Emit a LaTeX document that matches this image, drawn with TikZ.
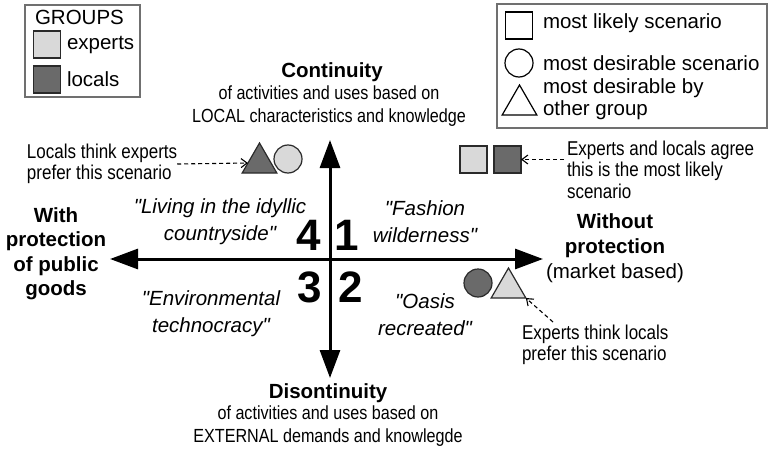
\documentclass[tikz,border=0pt]{standalone}
\usepackage{fontspec}
\setmainfont{Liberation Sans}[Ligatures=TeXOff]
\newfontfamily\narrowsans[FakeStretch=0.85,Ligatures=TeXOff]{Liberation Sans}
\usetikzlibrary{arrows.meta,shapes.geometric}

\definecolor{lightfill}{HTML}{D9D9D9}
\definecolor{darkfill}{HTML}{6A6A6A}
\definecolor{legendline}{HTML}{707070}
\definecolor{markline}{HTML}{2A2A2A}

\newcommand{\fsz}[2]{\fontsize{#1}{#2}\selectfont}

\begin{document}
\begin{tikzpicture}[x=1pt,y=-1pt,
  every node/.style={inner sep=0pt,outer sep=0pt},
  legendbox/.style={draw=legendline,line width=1.4pt},
  legendtext/.style={font=\fsz{20.5}{22}},
  swatch/.style={draw=markline,line width=1.2pt,rectangle,minimum size=27pt},
  mk/.style={draw=markline,line width=1.2pt},
  sqmark/.style={mk,rectangle,minimum size=27pt},
  cimark/.style={mk,circle,minimum size=28pt},
  trmark/.style={mk,regular polygon,regular polygon sides=3,minimum size=40pt},
  title/.style={font=\bfseries\fsz{20.5}{24.5},align=center},
  subtitle/.style={font=\narrowsans\fsz{19}{23},align=center},
  quadlabel/.style={font=\itshape\fsz{20.5}{27},align=center},
  num/.style={font=\bfseries\fsz{44}{44},anchor=base},
  notetext/.style={font=\narrowsans\fsz{20}{21.5},align=left,anchor=west},
  axis/.style={line width=3pt,{Triangle[length=28pt,width=20pt]}-{Triangle[length=28pt,width=20pt]}},
  note/.style={line width=1.1pt,dash pattern=on 4pt off 3pt,-{Straight Barb[length=6pt,width=9pt]}}
]
\useasboundingbox (0,0) rectangle (770,452);

% legend: groups
\node[legendbox,minimum width=115pt,minimum height=92pt] (grp) at (82.5,51) {};
\node[legendtext,anchor=west] (grptitle) at (35,17) {GROUPS};
\node[swatch,fill=lightfill] (swexp) at (47,44.5) {};
\node[legendtext,anchor=west] (lexp) at (67,45) {experts};
\node[swatch,fill=darkfill] (swloc) at (47,79.5) {};
\node[legendtext,anchor=west] (lloc) at (67,79) {locals};

% legend: marker shapes
\node[legendbox,minimum width=270pt,minimum height=124pt] (shp) at (632,66) {};
\node[sqmark,draw=black] (lsq) at (519,25.5) {};
\node[legendtext,anchor=west] (lsqt) at (543,23) {most likely scenario};
\node[cimark,draw=black] (lci) at (519,63) {};
\node[legendtext,anchor=west] (lcit) at (543,63) {most desirable scenario};
\node[trmark,draw=black] (ltr) at (519.5,105) {};
\node[legendtext,anchor=west,align=left] (ltrt) at (543,99) {most desirable by\\other group};

% axes
\coordinate (axtop) at (330,140);
\coordinate (axbot) at (330,378);
\coordinate (axleft) at (110,259);
\coordinate (axright) at (543,259);
\draw[axis] (axleft) -- (axright);
\draw[axis] (axbot) -- (axtop);

% quadrant numbers
\node[num] (n4) at (308.5,250) {4};
\node[num] (n1) at (347,250) {1};
\node[num] (n3) at (309.5,302) {3};
\node[num] (n2) at (350.5,302) {2};

% axis titles
\node[title] (cont) at (332,72) {Continuity};
\node[subtitle] (contsub) at (329,106.5) {of activities and uses based on\\LOCAL characteristics and knowledge};
\node[title] (discont) at (328,393) {Disontinuity};
\node[subtitle] (discsub) at (328,426) {of activities and uses based on\\EXTERNAL demands and knowlegde};
\node[title] (withp) at (56,253.5) {With\\protection\\of public\\goods};
\node[font=\fsz{20.5}{25},align=center] (withoutp) at (615,248) {\textbf{Without}\\\textbf{protection}\\(market based)};

% scenario names
\node[quadlabel] (q4) at (220,221.5) {"Living in the idyllic\\countryside"};
\node[quadlabel] (q1) at (425,221.5) {"Fashion\\wilderness"};
\node[quadlabel] (q3) at (211,313.5) {"Environmental\\technocracy"};
\node[quadlabel] (q2) at (425,315) {"Oasis\\recreated"};

% scenario markers
\node[trmark,fill=darkfill] (tri4) at (259.5,163) {};
\node[cimark,fill=lightfill] (cir4) at (288,159) {};
\node[sqmark,fill=lightfill] (sq1e) at (473.5,159.5) {};
\node[sqmark,fill=darkfill] (sq1l) at (507.5,159.5) {};
\node[cimark,fill=darkfill] (cir2) at (478,283) {};
\node[trmark,fill=lightfill] (tri2) at (508.5,288) {};

% annotations
\node[notetext] (notel) at (27,164) {Locals think experts\\prefer this scenario};
\node[notetext] (notea) at (567,169.5) {Experts and locals agree\\this is the most likely\\scenario};
\node[notetext] (notee) at (522,345) {Experts think locals\\prefer this scenario};
\coordinate (noteetail) at (553,322);

\draw[note] (notel.east) -- (tri4.west);
\draw[note] ([xshift=-3pt]notea.west |- sq1l.east) -- (sq1l.east);
\draw[note] (noteetail) -- (tri2.corner 3);
\end{tikzpicture}
\end{document}
